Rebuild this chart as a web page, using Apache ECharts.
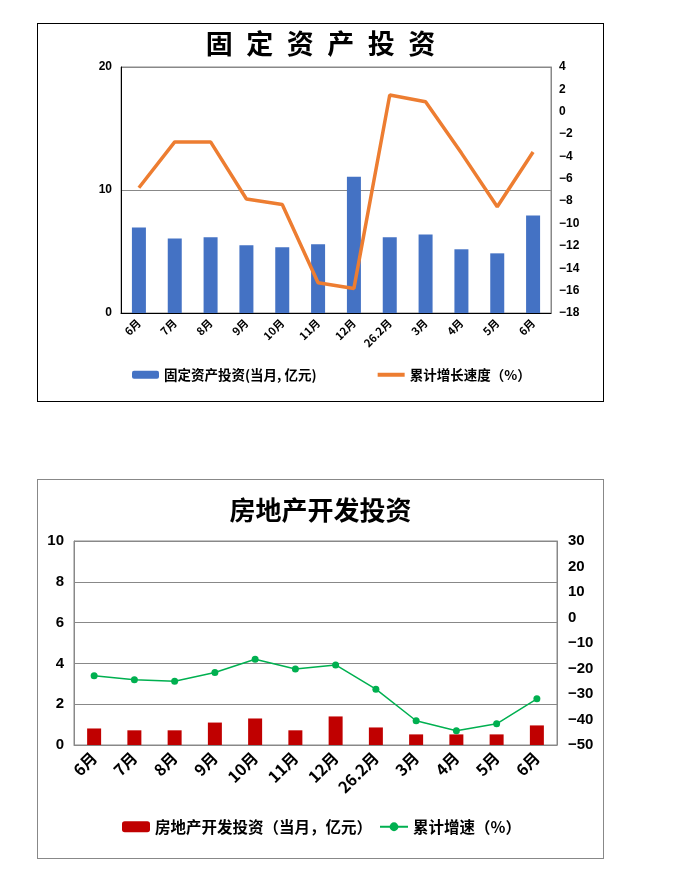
<!DOCTYPE html>
<html>
<head>
<meta charset="utf-8">
<title>固定资产投资 / 房地产开发投资</title>
<script src="https://cdn.jsdelivr.net/npm/echarts@6/dist/echarts.min.js"></script>
<style>
    body { margin: 0; background: #fff; }
    .box { position: absolute; left: 37px; width: 565px; }
    #chart1 { top: 23px; height: 377px; border: 1px solid #000; }
    #chart2 { top: 479px; height: 378px; border: 1px solid #888; }
</style>
</head>
<body>
<div id="chart1" class="box"></div>
<div id="chart2" class="box"></div>
<script>
// x axis months (same for both charts)
var months = ["6月", "7月", "8月", "9月", "10月", "11月", "12月", "26.2月", "3月", "4月", "5月", "6月"];

// 固定资产投资: monthly value (亿元) and cumulative growth (%)
var fixedInvest = [6.95, 6.06, 6.15, 5.5, 5.34, 5.58, 11.08, 6.15, 6.39, 5.18, 4.85, 7.92];
var fixedGrowth = [-6.8, -2.7, -2.7, -7.8, -8.3, -15.3, -15.8, 1.5, 0.9, -3.7, -8.5, -3.6];

// 房地产开发投资: monthly value (亿元) and cumulative growth (%)
var estateInvest = [0.81, 0.72, 0.72, 1.1, 1.3, 0.72, 1.4, 0.86, 0.52, 0.52, 0.52, 0.96];
var estateGrowth = [-22.8, -24.4, -25.0, -21.6, -16.4, -20.2, -18.6, -28.1, -40.5, -44.4, -41.7, -31.9];

var cjk = '"Noto Sans CJK SC", sans-serif';
var num = '"Liberation Sans", Arial, sans-serif';

// show a real minus sign on negative ticks
function minus(v) {
    return String(v).replace("-", "\u2212");
}

// ---- chart 1 ----
var chart1 = echarts.init(document.getElementById("chart1"));
chart1.setOption({
    animation: false,
    title: {
        text: "固\u2002定\u2002资\u2002产\u2002投\u2002资",
        left: "center",
        top: 1,
        textStyle: { fontFamily: cjk, fontSize: 27, fontWeight: "bold", color: "#000" }
    },
    legend: {
        left: 94,
        top: 344,
        padding: 0,
        itemGap: 59,
        itemWidth: 27,
        itemHeight: 8,
        textStyle: { fontFamily: cjk, fontSize: 13.5, fontWeight: "bold", color: "#000" },
        data: [
            "固定资产投资(当月, 亿元)",
            // hide the dot on the line icon, keep a thick line
            {
                name: "累计增长速度（%）",
                itemStyle: { color: "rgba(0,0,0,0)", borderWidth: 0 },
                lineStyle: { width: 4 }
            }
        ]
    },
    grid: { left: 83, right: 52, top: 43, bottom: 88, show: true, borderColor: "#888", borderWidth: 1 },
    xAxis: {
        type: "category",
        data: months,
        axisLine: { lineStyle: { color: "#000" } },
        axisTick: { inside: true, length: 3, lineStyle: { color: "#000" } },
        axisLabel: { rotate: 45, fontFamily: cjk, fontSize: 11, fontWeight: "bold", color: "#000", margin: 8 }
    },
    yAxis: [
        {
            type: "value", min: 0, max: 20, interval: 10,
            axisLine: { show: true, lineStyle: { color: "#000" } },
            axisTick: { show: false },
            splitLine: { lineStyle: { color: "#888" } },
            axisLabel: { fontFamily: num, fontSize: 12, fontWeight: "bold", color: "#000", margin: 9 }
        },
        {
            type: "value", min: -18, max: 4, interval: 2,
            axisLine: { show: true, lineStyle: { color: "#888" } },
            axisTick: { show: false },
            splitLine: { show: false },
            axisLabel: { fontFamily: num, fontSize: 12, fontWeight: "bold", color: "#000", margin: 8, formatter: minus }
        }
    ],
    series: [
        {
            name: "固定资产投资(当月, 亿元)",
            type: "bar",
            data: fixedInvest,
            barWidth: 14,
            itemStyle: { color: "#4472C4" }
        },
        {
            name: "累计增长速度（%）",
            type: "line",
            yAxisIndex: 1,
            data: fixedGrowth,
            symbol: "none",
            lineStyle: { color: "#ED7D31", width: 3.5 },
            itemStyle: { color: "#ED7D31" }
        }
    ]
});

// ---- chart 2 ----
var chart2 = echarts.init(document.getElementById("chart2"));
chart2.setOption({
    animation: false,
    title: {
        text: "房地产开发投资",
        left: "center",
        top: 12,
        textStyle: { fontFamily: cjk, fontSize: 26, fontWeight: "bold", color: "#000" }
    },
    legend: {
        left: 84,
        top: 339,
        padding: 0,
        itemGap: 7,
        itemWidth: 28,
        itemHeight: 11,
        textStyle: { fontFamily: cjk, fontSize: 15.5, fontWeight: "bold", color: "#000" },
        data: ["房地产开发投资（当月，亿元）", "累计增速（%）"]
    },
    grid: { left: 36, right: 46, top: 61, bottom: 113, show: true, borderColor: "#888", borderWidth: 1 },
    xAxis: {
        type: "category",
        data: months,
        axisLine: { lineStyle: { color: "#888" } },
        axisTick: { inside: true, length: 5, lineStyle: { color: "#888" } },
        axisLabel: { rotate: 45, fontFamily: cjk, fontSize: 16, fontWeight: "bold", color: "#000", margin: 10 }
    },
    yAxis: [
        {
            type: "value", min: 0, max: 10, interval: 2,
            axisLine: { show: true, lineStyle: { color: "#888" } },
            axisTick: { show: false },
            splitLine: { lineStyle: { color: "#888" } },
            axisLabel: { fontFamily: num, fontSize: 15, fontWeight: "bold", color: "#000", margin: 10 }
        },
        {
            type: "value", min: -50, max: 30, interval: 10,
            axisLine: { show: true, lineStyle: { color: "#888" } },
            axisTick: { inside: true, length: 5, lineStyle: { color: "#888" } },
            splitLine: { show: false },
            axisLabel: { fontFamily: num, fontSize: 15, fontWeight: "bold", color: "#000", margin: 11, formatter: minus }
        }
    ],
    series: [
        {
            name: "房地产开发投资（当月，亿元）",
            type: "bar",
            data: estateInvest,
            barWidth: 14,
            itemStyle: { color: "#C00000" }
        },
        {
            name: "累计增速（%）",
            type: "line",
            yAxisIndex: 1,
            data: estateGrowth,
            symbol: "circle",
            symbolSize: 7,
            lineStyle: { color: "#00B050", width: 1.5 },
            itemStyle: { color: "#00B050" }
        }
    ]
});
</script>
</body>
</html>
